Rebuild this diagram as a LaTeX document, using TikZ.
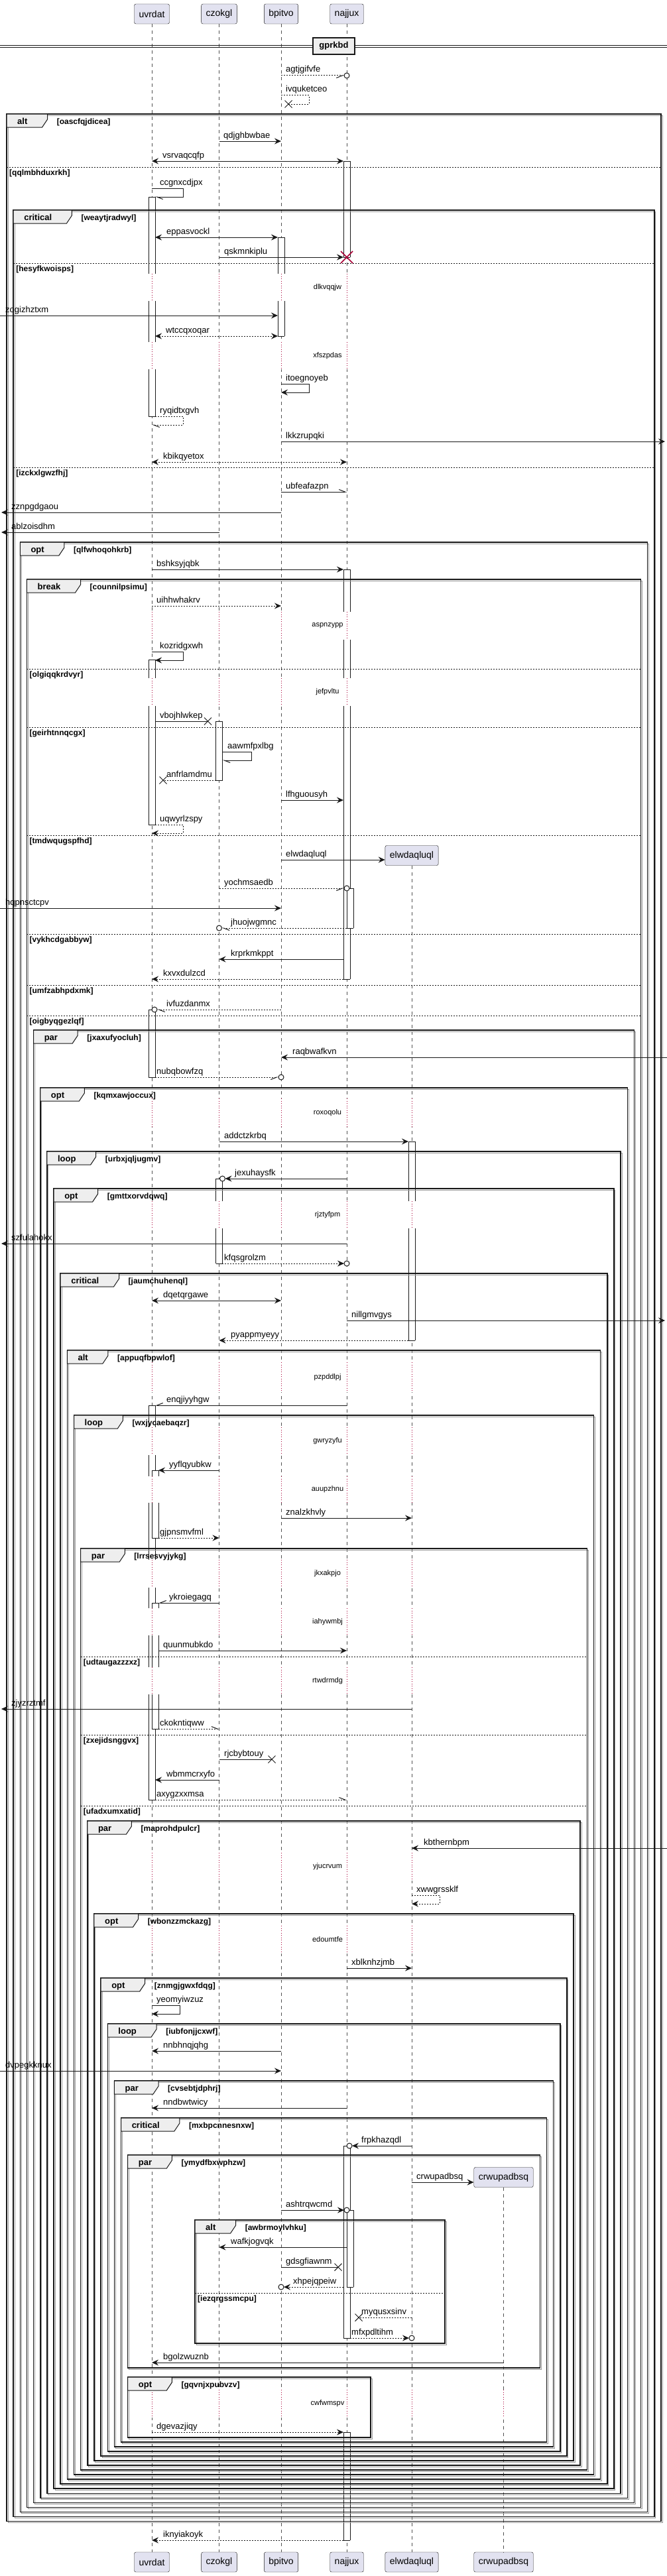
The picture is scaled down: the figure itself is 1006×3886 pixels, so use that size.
\documentclass[tikz,border=0pt]{standalone}
\usepackage{fontspec}
\setmainfont{Liberation Sans}
\usetikzlibrary{arrows.meta,calc}

\definecolor{ink}{HTML}{181818}
\definecolor{partfill}{HTML}{E2E2F0}
\definecolor{tabfill}{HTML}{EEEEEE}
\definecolor{delayred}{HTML}{A80036}

\def\fourlines{uvrdat,czokgl,bpitvo,najjux}
\def\fivelines{uvrdat,czokgl,bpitvo,najjux,elwdaqluql}
\def\sixlines{uvrdat,czokgl,bpitvo,najjux,elwdaqluql,crwupadbsq}

\tikzset{
  >={Stealth[length=10pt,width=9pt,inset=3.5pt]},
  part/.style={draw=ink, fill=partfill, rounded corners=2.5pt, minimum height=30pt, inner xsep=7pt, font=\fontsize{14}{16}\selectfont},
  lifeline/.style={draw=ink!75, line width=0.5pt, dash pattern=on 5pt off 5pt},
  delayline/.style={draw=delayred, line width=0.8pt, dash pattern=on 1pt off 2.5pt},
  delaytxt/.style={inner sep=0pt, font=\fontsize{11}{13}\selectfont},
  msg/.style={draw=ink, line width=1pt},
  dots/.style={dash pattern=on 2pt off 2pt},
  harp/.style={-{Straight Barb[harpoon,length=9pt,width=7pt]}},
  harpsw/.style={-{Straight Barb[harpoon,swap,length=9pt,width=7pt]}},
  msglbl/.style={anchor=base west, inner sep=0pt, yshift=5pt, font=\fontsize{13}{15}\selectfont},
  actline/.style={draw=ink, line width=0.8pt},
  grpframe/.style={draw=ink, line width=1.5pt},
  grpshadow/.style={draw=black!40, line width=1pt},
  grptab/.style={draw=ink, fill=tabfill, line width=1pt},
  grpkw/.style={anchor=base west, inner sep=0pt, font=\bfseries\fontsize{13}{15}\selectfont},
  grpcond/.style={anchor=base west, inner sep=0pt, font=\bfseries\fontsize{12}{14}\selectfont},
  sepline/.style={draw=ink, line width=0.8pt, dash pattern=on 2pt off 2pt},
  divbox/.style={draw=ink, fill=tabfill, line width=1.5pt, minimum width=63pt, minimum height=25pt, font=\bfseries\fontsize{13}{15}\selectfont},
}

\newcommand\msg[8][]{%
  \draw[msg,#1] ($(#2|-0,#6)+(#3,0)$) -- ($(#4|-0,#6)+(#5,0)$);
  \node[msglbl] (lbl-#8) at (#7,#6) {#8};}
\newcommand\selfmsg[8][]{%
  \draw[msg,#1] ($(#2|-0,#6)+(#3,0)$) -- ($(#2|-0,#6)+(#4,0)$) -- ($(#2|-0,#6+13)+(#4,0)$) -- ($(#2|-0,#6+13)+(#5,0)$);
  \node[msglbl] (lbl-#8) at (#7,#6) {#8};}
\newcommand\tipcirc[3]{\draw[msg,fill=white] ($(#1|-0,#3)+(#2,0)$) circle[radius=4pt];}
\newcommand\tipx[3]{\draw[msg] ($(#1|-0,#3)+(#2,0)$) +(-5.5,-5.5) -- +(5.5,5.5) +(-5.5,5.5) -- +(5.5,-5.5);}
\newcommand\act[6]{%
  \fill[white] ($(#1|-0,#3)+(#2-5,0)$) rectangle ($(#1|-0,#4)+(#2+5,0)$);
  \draw[actline] ($(#1|-0,#3)+(#2-5,0)$) -- ($(#1|-0,#4)+(#2-5,0)$) ($(#1|-0,#3)+(#2+5,0)$) -- ($(#1|-0,#4)+(#2+5,0)$);
  \ifnum#5=1 \draw[actline] ($(#1|-0,#3)+(#2-5,0)$) -- ($(#1|-0,#3)+(#2+5,0)$);\fi
  \ifnum#6=1 \draw[actline] ($(#1|-0,#4)+(#2-5,0)$) -- ($(#1|-0,#4)+(#2+5,0)$);\fi}
\newcommand\delay[4]{%
  \foreach \ll in #4 {
    \fill[white] ($(\ll|-0,#1)+(-2,0)$) rectangle ($(\ll|-0,#2)+(2,0)$);
    \draw[delayline] (\ll|-0,#1) -- (\ll|-0,#2);}
  \node[delaytxt] (dl-#3) at (494,{(#1+#2)/2}) {#3};}
\newcommand\grp[6]{%
  \draw[grpshadow] (#1+2,#2+2) rectangle (#3+2,#4+2);
  \draw[grpframe] (#1,#2) rectangle (#3,#4);
  \node[grpkw,opacity=0] (kwm-#6) at (#1+16,#2+15) {#5};
  \filldraw[grptab] (#1,#2) -- ($(kwm-#6.east|-0,#2)+(30,0)$) -- ++(0,8) -- ++(-8,12) -- (#1,#2+20) -- cycle;
  \node[grpkw] (kw-#6) at (#1+16,#2+15) {#5};
  \node[grpcond] (cond-#6) at ($(kwm-#6.east|-0,#2+15.5)+(44,0)$) {[#6]};}
\newcommand\grpsep[4]{%
  \draw[sepline] (#1,#3) -- (#2,#3);
  \node[grpcond] (sep-#4) at (#1+4,#3+12.5) {[#4]};}

\begin{document}
\begin{tikzpicture}[x=1pt,y=-1pt]
\useasboundingbox (0,0) rectangle (1006,3886);
\fill[white] (0,0) rectangle (1006,3886);

\node[part] (uvrdat) at (229,21) {uvrdat};
\node[part] (czokgl) at (330.5,21) {czokgl};
\node[part] (bpitvo) at (424,21) {bpitvo};
\node[part] (najjux) at (523,21) {najjux};
\node[part] (elwdaqluql) at (621,1290.5) {elwdaqluql};
\node[part] (crwupadbsq) at (759.5,3284.5) {crwupadbsq};
\foreach \p/\px in {uvrdat/229, czokgl/330.5, bpitvo/424, najjux/523, elwdaqluql/621, crwupadbsq/759.5}
  \node[part] (\p-end) at (\px,3865) {\p};
\coordinate (leftedge) at (0,0);
\coordinate (rightedge) at (1003,0);
\foreach \p in \sixlines
  \draw[lifeline] (\p.south) -- (\p-end.north);

\delay{413}{454}{dlkvqqjw}{\fourlines}
\delay{516}{557}{xfszpdas}{\fourlines}
\delay{923}{965}{aspnzypp}{\fourlines}
\delay{1023}{1065}{jefpvltu}{\fourlines}
\delay{1657}{1700}{roxoqolu}{\fivelines}
\delay{1812}{1853}{rjztyfpm}{\fivelines}
\delay{2055}{2100}{pzpddlpj}{\fivelines}
\delay{2153}{2195}{gwryzyfu}{\fivelines}
\delay{2227}{2267}{auupzhnu}{\fivelines}
\delay{2353}{2395}{jkxakpjo}{\fivelines}
\delay{2426}{2467}{iahywmbj}{\fivelines}
\delay{2515}{2556}{rtwdrmdg}{\fivelines}
\delay{2795}{2837}{yjucrvum}{\fivelines}
\delay{2905}{2947}{edoumtfe}{\fivelines}
\delay{3605}{3647}{cwfwmspv}{\sixlines}

\draw[ink,line width=1pt] (0,68.5) -- (1006,68.5) (0,71.5) -- (1006,71.5);
\node[divbox] (gprkbd) at (503.5,69.5) {gprkbd};

\act{najjux}{0}{243}{388}{1}{1}
\act{uvrdat}{0}{297}{413}{1}{0}
\act{uvrdat}{0}{454}{516}{0}{0}
\act{uvrdat}{0}{557}{628}{0}{1}
\act{bpitvo}{0}{358}{413}{1}{0}
\act{bpitvo}{0}{454}{507}{0}{1}
\act{najjux}{0}{859}{923}{1}{0}
\act{najjux}{0}{965}{1023}{0}{0}
\act{najjux}{0}{1065}{1477}{0}{1}
\act{najjux}{5}{1340}{1400}{1}{1}
\act{uvrdat}{0}{995}{1023}{1}{0}
\act{uvrdat}{0}{1065}{1244}{0}{1}
\act{czokgl}{0}{1088}{1177}{1}{1}
\act{uvrdat}{0}{1523}{1625}{1}{1}
\act{elwdaqluql}{0}{1722}{1812}{1}{0}
\act{elwdaqluql}{0}{1853}{2022}{0}{1}
\act{czokgl}{0}{1778}{1812}{1}{0}
\act{czokgl}{0}{1853}{1906}{0}{1}
\act{uvrdat}{0}{2120}{2153}{1}{0}
\act{uvrdat}{0}{2195}{2227}{0}{0}
\act{uvrdat}{0}{2267}{2353}{0}{0}
\act{uvrdat}{0}{2395}{2426}{0}{0}
\act{uvrdat}{0}{2467}{2515}{0}{0}
\act{uvrdat}{0}{2556}{2715}{0}{1}
\act{uvrdat}{5}{2218}{2227}{1}{0}
\act{uvrdat}{5}{2267}{2320}{0}{1}
\act{uvrdat}{5}{2418}{2426}{1}{0}
\act{uvrdat}{5}{2467}{2515}{0}{0}
\act{uvrdat}{5}{2556}{2608}{0}{1}
\act{najjux}{0}{3237}{3527}{1}{1}
\act{najjux}{5}{3334}{3450}{1}{1}
\act{najjux}{0}{3669}{3832}{1}{1}

\foreach \k/\gtop/\kw/\cond in {1/172/alt/oascfqjdicea, 2/317/critical/weaytjradwyl,
    3/818/opt/qlfwhoqohkrb, 4/874/break/counnilpsimu, 5/1554/par/jxaxufyocluh,
    6/1641/opt/kqmxawjoccux, 7/1737/loop/urbxjqljugmv, 8/1793/opt/gmttxorvdqwq,
    9/1921/critical/jaumchuhenql, 10/2037/alt/appuqfbpwlof, 11/2135/loop/wxjycaebaqzr,
    12/2336/par/lrrsesvyjykg, 13/2747/par/maprohdpulcr, 14/2887/opt/wbonzzmckazg,
    15/2984/opt/znmgjgwxfdqg, 16/3053/loop/iubfonjjcxwf, 17/3139/par/cvsebtjdphrj,
    18/3195/critical/mxbpcnnesnxw}{
  \pgfmathsetmacro\grpl{10+(\k-1)*10.15}
  \pgfmathsetmacro\grpr{997-(\k-1)*10.15}
  \pgfmathsetmacro\grpb{3684+(18-\k)*7.02}
  \grp{\grpl}{\gtop}{\grpr}{\grpb}{\kw}{\cond}
}
\grp{192.7}{3251}{814.3}{3572}{par}{ymydfbxwphzw}
\grp{294}{3349}{671}{3535}{alt}{awbrmoylvhku}
\grp{192.7}{3586}{559}{3677}{opt}{gqvnjxpubvzv}

\grpsep{10}{997}{252}{qqlmbhduxrkh}
\grpsep{20.15}{986.85}{397}{hesyfkwoisps}
\grpsep{20.15}{986.85}{705}{izckxlgwzfhj}
\grpsep{40.45}{966.55}{1009}{olgiqqkrdvyr}
\grpsep{40.45}{966.55}{1097}{geirhtnnqcgx}
\grpsep{40.45}{966.55}{1260}{tmdwqugspfhd}
\grpsep{40.45}{966.55}{1409}{vykhcdgabbyw}
\grpsep{40.45}{966.55}{1486}{umfzabhpdxmk}
\grpsep{40.45}{966.55}{1532}{oigbyqgezlqf}
\grpsep{121.65}{885.35}{2499}{udtaugazzzxz}
\grpsep{121.65}{885.35}{2617}{zxejidsnggvx}
\grpsep{121.65}{885.35}{2724}{ufadxumxatid}
\grpsep{294}{671}{3459}{iezqrgssmcpu}

\msg[dots,harpsw]{bpitvo}{0}{najjux}{-4}{114}{431}{agtjgifvfe}
\tipcirc{najjux}{0}{114}
\selfmsg[dots]{bpitvo}{0}{42}{11}{144}{431}{ivquketceo}
\tipx{bpitvo}{11}{157}
\msg[->]{czokgl}{0}{bpitvo}{0}{213}{337}{qdjghbwbae}
\msg[<->]{uvrdat}{0}{najjux}{-5}{243}{245}{vsrvaqcqfp}
\selfmsg[harp]{uvrdat}{0}{47}{5}{284}{241}{ccgnxcdjpx}
\msg[<->]{uvrdat}{5}{bpitvo}{-5}{358}{251}{eppasvockl}
\msg[->]{czokgl}{0}{najjux}{-5}{388}{338}{qskmnkiplu}
\draw[delayred,line width=1.5pt] (najjux|-0,388) +(-9,-9) -- +(9,9) +(-9,9) -- +(9,-9);
\msg[->]{leftedge}{0}{bpitvo}{-5}{476}{8}{zogizhztxm}
\msg[dots,<->]{uvrdat}{5}{bpitvo}{-5}{507}{250}{wtccqxoqar}
\selfmsg[->]{bpitvo}{0}{42}{0}{579}{431}{itoegnoyeb}
\selfmsg[dots,harp]{uvrdat}{5}{47}{0}{628}{241}{ryqidtxgvh}
\msg[->]{bpitvo}{0}{rightedge}{0}{666}{431}{lkkzrupqki}
\msg[dots,<->]{uvrdat}{0}{najjux}{0}{697}{246}{kbikqyetox}
\msg[harp]{bpitvo}{0}{najjux}{0}{742}{431}{ubfeafazpn}
\msg[->]{bpitvo}{0}{leftedge}{2}{773}{17}{zznpgdgaou}
\msg[->]{czokgl}{0}{leftedge}{2}{803}{17}{ablzoisdhm}
\msg[->]{uvrdat}{0}{najjux}{-5}{859}{236}{bshksyjqbk}
\msg[dots,->]{uvrdat}{0}{bpitvo}{0}{914}{236}{uihhwhakrv}
\selfmsg[->]{uvrdat}{0}{47}{5}{983}{241}{kozridgxwh}
\msg{uvrdat}{5}{czokgl}{-17}{1088}{241}{vbojhlwkep}
\tipx{czokgl}{-17}{1088}
\selfmsg[harp]{czokgl}{5}{49}{5}{1134}{343}{aawmfpxlbg}
\msg[dots]{czokgl}{-5}{uvrdat}{17}{1177}{251}{anfrlamdmu}
\tipx{uvrdat}{17}{1177}
\msg[->]{bpitvo}{0}{najjux}{-5}{1207}{431}{lfhguousyh}
\selfmsg[dots,->]{uvrdat}{5}{47}{0}{1244}{241}{uqwyrlzspy}
\draw[msg,->] (bpitvo|-0,1297) -- (elwdaqluql.west|-0,1297);
\node[msglbl] (lbl-elwdaqluql) at (431,1297) {elwdaqluql};
\msg[dots,harpsw]{czokgl}{0}{najjux}{-4}{1340}{338}{yochmsaedb}
\tipcirc{najjux}{0}{1340}
\msg[->]{leftedge}{0}{bpitvo}{0}{1370}{8}{hqpnsctcpv}
\msg[dots,harp]{najjux}{0}{czokgl}{4}{1400}{348}{jhuojwgmnc}
\tipcirc{czokgl}{0}{1400}
\msg[->]{najjux}{-5}{czokgl}{0}{1447}{348}{krprkmkppt}
\msg[dots,->]{najjux}{-5}{uvrdat}{0}{1477}{246}{kxvxdulzcd}
\msg[dots,harp]{bpitvo}{0}{uvrdat}{8}{1523}{251}{ivfuzdanmx}
\tipcirc{uvrdat}{4}{1523}
\msg[->]{rightedge}{3}{bpitvo}{0}{1595}{441}{raqbwafkvn}
\msg[dots,harpsw]{uvrdat}{5}{bpitvo}{-4}{1625}{236}{nubqbowfzq}
\tipcirc{bpitvo}{0}{1625}
\msg[->]{czokgl}{0}{elwdaqluql}{-5}{1722}{338}{addctzkrbq}
\msg[->]{najjux}{0}{czokgl}{9}{1778}{354}{jexuhaysfk}
\tipcirc{czokgl}{5}{1778}
\msg[->]{najjux}{0}{leftedge}{2}{1876}{17}{szfulahokx}
\msg[dots,->]{czokgl}{0}{najjux}{-4}{1906}{338}{kfqsgrolzm}
\tipcirc{najjux}{0}{1906}
\msg[<->]{uvrdat}{0}{bpitvo}{0}{1962}{246}{dqetqrgawe}
\msg[->]{najjux}{0}{rightedge}{0}{1992}{530}{nillgmvgys}
\msg[dots,->]{elwdaqluql}{-5}{czokgl}{0}{2022}{348}{pyappmyeyy}
\msg[harpsw]{najjux}{0}{uvrdat}{5}{2120}{251}{enqjiyyhgw}
\msg[->]{czokgl}{0}{uvrdat}{10}{2218}{255}{yyflqyubkw}
\msg[->]{bpitvo}{0}{elwdaqluql}{0}{2290}{431}{znalzkhvly}
\msg[dots,->]{uvrdat}{10}{czokgl}{0}{2320}{241}{gjpnsmvfml}
\msg[harpsw]{czokgl}{0}{uvrdat}{10}{2418}{255}{ykroiegagq}
\msg[->]{uvrdat}{10}{najjux}{0}{2490}{246}{quunmubkdo}
\msg[->]{elwdaqluql}{0}{leftedge}{2}{2578}{17}{zjyzrztmf}
\msg[dots,harp]{uvrdat}{10}{czokgl}{0}{2608}{241}{ckokntiqww}
\msg{czokgl}{0}{bpitvo}{-14}{2654}{338}{rjcbybtouy}
\tipx{bpitvo}{-14}{2654}
\msg[->]{czokgl}{0}{uvrdat}{5}{2685}{251}{wbmmcrxyfo}
\msg[dots,harp]{uvrdat}{5}{najjux}{0}{2715}{236}{axygzxxmsa}
\msg[->]{rightedge}{3}{elwdaqluql}{0}{2788}{639}{kbthernbpm}
\selfmsg[dots,->]{elwdaqluql}{0}{42}{0}{2859}{628}{xwwgrssklf}
\msg[->]{najjux}{0}{elwdaqluql}{0}{2969}{530}{xblknhzjmb}
\selfmsg[->]{uvrdat}{0}{42}{0}{3025}{236}{yeomyiwzuz}
\msg[->]{bpitvo}{0}{uvrdat}{0}{3094}{246}{nnbhnqjqhg}
\msg[->]{leftedge}{0}{bpitvo}{0}{3124}{8}{dvpegkknux}
\msg[->]{najjux}{0}{uvrdat}{0}{3180}{246}{nndbwtwicy}
\msg[->]{elwdaqluql}{0}{najjux}{8}{3237}{545}{frpkhazqdl}
\tipcirc{najjux}{4}{3237}
\draw[msg,->] (elwdaqluql|-0,3292) -- (crwupadbsq.west|-0,3292);
\node[msglbl] (lbl-crwupadbsq) at (628,3292) {crwupadbsq};
\msg[->]{bpitvo}{0}{najjux}{-4}{3334}{431}{ashtrqwcmd}
\tipcirc{najjux}{0}{3334}
\msg[->]{najjux}{0}{czokgl}{0}{3390}{348}{wafkjogvqk}
\msg{bpitvo}{0}{najjux}{-13}{3420}{431}{gdsgfiawnm}
\tipx{najjux}{-13}{3420}
\msg[dots,->]{najjux}{-5}{bpitvo}{4}{3450}{442}{xhpejqpeiw}
\tipcirc{bpitvo}{0}{3450}
\msg[dots]{elwdaqluql}{0}{najjux}{18}{3496}{545}{myqusxsinv}
\tipx{najjux}{18}{3496}
\msg[dots,->]{najjux}{5}{elwdaqluql}{-4}{3527}{530}{mfxpdltihm}
\tipcirc{elwdaqluql}{0}{3527}
\msg[->]{crwupadbsq}{0}{uvrdat}{0}{3564}{246}{bgolzwuznb}
\msg[dots,->]{uvrdat}{0}{najjux}{-5}{3669}{236}{dgevazjiqy}
\msg[dots,->]{najjux}{-5}{uvrdat}{0}{3832}{246}{iknyiakoyk}
\end{tikzpicture}
\end{document}
